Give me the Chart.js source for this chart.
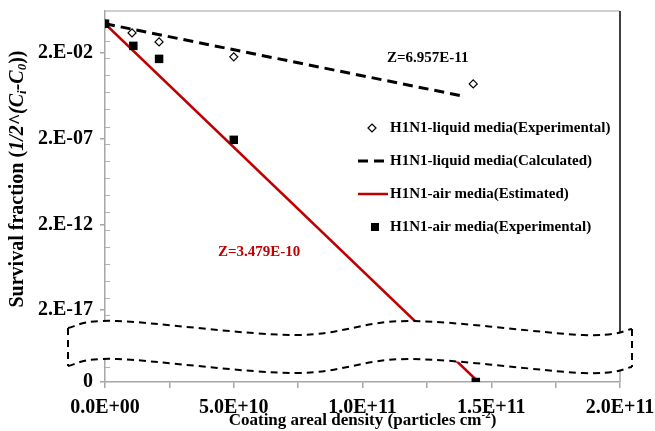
<!DOCTYPE html>
<html>
<head>
<meta charset="utf-8">
<script src="https://cdn.jsdelivr.net/npm/chart.js@4.4.0/dist/chart.umd.min.js"></script>
<style>
  html, body { margin: 0; padding: 0; background: #fff; }
  #wrap { width: 655px; height: 431px; }
</style>
</head>
<body>
<div id="wrap"><canvas id="chart" width="655" height="431"></canvas></div>
<script>
// H1N1 liquid media - experimental points
const liquidExpX = [0, 1.05e10, 2.1e10, 5.0e10, 1.43e11];
const liquidExpY = [1, 0.29, 0.087, 0.0117, 3.1e-4];
// H1N1 liquid media - calculated line (end points)
const liquidCalcX = [0, 1.39e11];
const liquidCalcY = [1, 6e-5];
// H1N1 air media - estimated line (end points)
const airEstX = [0, 1.45e11];
const airEstY = [1, 0];
// H1N1 air media - experimental points
const airExpX = [0, 1.1e10, 2.1e10, 5.0e10, 1.44e11];
const airExpY = [1, 0.051, 0.0089, 1.7e-7, 0];

const seriesNames = [
  'H1N1-liquid media(Experimental)',
  'H1N1-liquid media(Calculated)',
  'H1N1-air media(Estimated)',
  'H1N1-air media(Experimental)'
];

const xTicks = [0, 2.5e10, 5e10, 7.5e10, 1e11, 1.25e11, 1.5e11, 1.75e11, 2e11];
const xTickLabels = ['0.0E+00', '', '5.0E+10', '', '1.0E+11', '', '1.5E+11', '', '2.0E+11'];
const yTicks = [2e-2, 2e-7, 2e-12, 2e-17];
const yTickLabels = ['2.E-02', '2.E-07', '2.E-12', '2.E-17'];

// the broken axis: "0" sits at the bottom of the log axis
const Y_ZERO = 1.3e-21;
const Y_TOP = 5.5;

const RED = '#c00000';
const SERIF = "'Liberation Serif', 'Times New Roman', serif";

function toPoints(xs, ys) {
  return xs.map((x, i) => ({ x: x, y: ys[i] === 0 ? Y_ZERO : ys[i] }));
}

// dashed wavy band that marks the axis break
const breakBand = {
  id: 'breakBand',
  afterDatasetsDraw(chart) {
    const { ctx, chartArea: a } = chart;
    const b = a.bottom;
    const L = a.left - 37, R = a.right + 12;
    const topWave = [[L, b - 54], [a.left + 12, b - 61], [a.left + 190, b - 47], [a.left + 304, b - 61], [a.left + 478, b - 47], [R, b - 53]];
    const botWave = topWave.map(p => [p[0], p[1] + 38]);

    function curve(pts, reverse) {
      const p = reverse ? pts.slice().reverse() : pts;
      for (let i = 0; i < p.length - 1; i++) {
        const p0 = p[Math.max(i - 1, 0)], p1 = p[i], p2 = p[i + 1], p3 = p[Math.min(i + 2, p.length - 1)];
        ctx.bezierCurveTo(
          p1[0] + (p2[0] - p0[0]) / 6, p1[1] + (p2[1] - p0[1]) / 6,
          p2[0] - (p3[0] - p1[0]) / 6, p2[1] - (p3[1] - p1[1]) / 6,
          p2[0], p2[1]);
      }
    }

    ctx.save();
    // white fill hides axis and lines inside the break
    ctx.beginPath();
    ctx.moveTo(topWave[0][0], topWave[0][1]);
    curve(topWave, false);
    ctx.lineTo(botWave[botWave.length - 1][0], botWave[botWave.length - 1][1]);
    curve(botWave, true);
    ctx.closePath();
    ctx.fillStyle = '#fff';
    ctx.fill();

    ctx.strokeStyle = '#000';
    ctx.lineWidth = 2;
    ctx.setLineDash([7, 5]);
    ctx.beginPath();
    ctx.moveTo(topWave[0][0], topWave[0][1]);
    curve(topWave, false);
    ctx.moveTo(botWave[0][0], botWave[0][1]);
    curve(botWave, false);
    ctx.moveTo(L, topWave[0][1]);
    ctx.lineTo(L, botWave[0][1]);
    ctx.moveTo(R, topWave[topWave.length - 1][1]);
    ctx.lineTo(R, botWave[botWave.length - 1][1]);
    ctx.stroke();
    ctx.restore();
  }
};

// top and right frame lines, small minor ticks on the log axis
const frame = {
  id: 'frame',
  beforeDatasetsDraw(chart) {
    const { ctx, chartArea: a, scales } = chart;
    ctx.save();
    ctx.strokeStyle = '#bfbfbf';
    ctx.lineWidth = 1.5;
    ctx.beginPath();
    ctx.moveTo(a.left, a.top);
    ctx.lineTo(a.right, a.top);
    ctx.stroke();

    ctx.strokeStyle = '#b0b0b0';
    ctx.lineWidth = 1;
    ctx.beginPath();
    for (let e = 0; e >= -20; e--) {
      const py = Math.round(scales.y.getPixelForValue(Math.pow(10, e))) + 0.5;
      ctx.moveTo(a.left, py);
      ctx.lineTo(a.left + 5, py);
    }
    ctx.stroke();

    ctx.strokeStyle = '#404040';
    ctx.lineWidth = 2;
    ctx.beginPath();
    ctx.moveTo(a.right, a.top);
    ctx.lineTo(a.right, a.bottom - 40);
    ctx.stroke();
    ctx.strokeStyle = '#a6a6a6';
    ctx.lineWidth = 1.5;
    ctx.beginPath();
    ctx.moveTo(a.right, a.bottom - 40);
    ctx.lineTo(a.right, a.bottom);
    ctx.stroke();
    ctx.restore();
  }
};

function drawRuns(ctx, runs, cx, cy) {
  let total = 0;
  runs.forEach(r => { ctx.font = r.f; r.w = ctx.measureText(r.t).width; total += r.w; });
  let x = cx - total / 2;
  ctx.textBaseline = 'middle';
  ctx.textAlign = 'left';
  runs.forEach(r => {
    ctx.font = r.f;
    ctx.fillText(r.t, x, cy + (r.dy || 0));
    x += r.w;
  });
}

// axis titles, legend and Z labels
const annotations = {
  id: 'annotations',
  afterDraw(chart) {
    const { ctx, chartArea: a, scales } = chart;
    ctx.save();
    ctx.fillStyle = '#000';

    // x title
    drawRuns(ctx, [
      { t: 'Coating areal density (particles cm', f: 'bold 17px ' + SERIF },
      { t: '-2', f: 'bold 11px ' + SERIF, dy: -6 },
      { t: ')', f: 'bold 17px ' + SERIF }
    ], (a.left + a.right) / 2, 421);

    // y title
    ctx.save();
    ctx.translate(18, 179);
    ctx.rotate(-Math.PI / 2);
    drawRuns(ctx, [
      { t: 'Survival fraction (', f: 'bold 20px ' + SERIF },
      { t: '1/2^(C', f: 'italic bold 20px ' + SERIF },
      { t: 'i', f: 'italic bold 13px ' + SERIF, dy: 5 },
      { t: '-C', f: 'italic bold 20px ' + SERIF },
      { t: '0', f: 'italic bold 13px ' + SERIF, dy: 5 },
      { t: '))', f: 'bold 20px ' + SERIF }
    ], 0, 0);
    ctx.restore();

    // Z labels
    ctx.font = 'bold 15px ' + SERIF;
    ctx.textBaseline = 'middle';
    ctx.textAlign = 'left';
    ctx.fillText('Z=6.957E-11', scales.x.getPixelForValue(1.095e11), scales.y.getPixelForValue(0.0102));
    ctx.fillStyle = RED;
    ctx.fillText('Z=3.479E-10', scales.x.getPixelForValue(4.39e10), scales.y.getPixelForValue(5e-14));

    // legend
    const ds = chart.data.datasets;
    const lx = a.left + 253, ty = 128, gap = 33;
    ds.forEach((d, i) => {
      const y = ty + gap * i;
      ctx.save();
      if (d.showLine) {
        ctx.strokeStyle = d.borderColor;
        ctx.lineWidth = d.borderWidth;
        ctx.setLineDash(d.borderDash || []);
        ctx.beginPath();
        ctx.moveTo(lx, y);
        ctx.lineTo(lx + 30, y);
        ctx.stroke();
      } else if (d.pointStyle === 'rectRot') {
        ctx.strokeStyle = '#000';
        ctx.fillStyle = '#fff';
        ctx.lineWidth = 1.2;
        ctx.beginPath();
        ctx.moveTo(lx + 14, y - 4);
        ctx.lineTo(lx + 18, y);
        ctx.lineTo(lx + 14, y + 4);
        ctx.lineTo(lx + 10, y);
        ctx.closePath();
        ctx.fill();
        ctx.stroke();
      } else {
        ctx.fillStyle = '#000';
        ctx.fillRect(lx + 13, y - 4, 8, 8);
      }
      ctx.restore();
      ctx.fillStyle = '#000';
      ctx.font = 'bold 15px ' + SERIF;
      ctx.textBaseline = 'middle';
      ctx.fillText(d.label, lx + 32, y);
    });
    ctx.restore();
  }
};

new Chart(document.getElementById('chart'), {
  type: 'scatter',
  data: {
    datasets: [
      {
        label: seriesNames[0],
        data: toPoints(liquidExpX, liquidExpY),
        showLine: false,
        pointStyle: 'rectRot',
        pointRadius: 4,
        pointBackgroundColor: '#fff',
        pointBorderColor: '#000',
        pointBorderWidth: 1.2,
        order: 1
      },
      {
        label: seriesNames[1],
        data: toPoints(liquidCalcX, liquidCalcY),
        showLine: true,
        borderColor: '#000',
        borderWidth: 3,
        borderDash: [10, 6],
        pointRadius: 0,
        order: 3
      },
      {
        label: seriesNames[2],
        data: toPoints(airEstX, airEstY),
        showLine: true,
        borderColor: RED,
        borderWidth: 2.5,
        pointRadius: 0,
        order: 2
      },
      {
        label: seriesNames[3],
        data: toPoints(airExpX, airExpY),
        showLine: false,
        pointStyle: 'rect',
        pointRadius: 6,
        pointBackgroundColor: '#000',
        pointBorderColor: '#000',
        pointBorderWidth: 0,
        order: 0
      }
    ]
  },
  options: {
    responsive: false,
    animation: false,
    layout: { padding: { top: 11, right: 35, left: 0, bottom: 0 } },
    plugins: {
      legend: { display: false },
      tooltip: { enabled: false }
    },
    scales: {
      x: {
        type: 'linear',
        min: 0,
        max: 2e11,
        afterBuildTicks: scale => { scale.ticks = xTicks.map(v => ({ value: v })); },
        afterFit: scale => { scale.height = 49; scale.paddingLeft = 0; scale.paddingRight = 0; },
        ticks: {
          autoSkip: false,
          maxRotation: 0,
          padding: 8,
          color: '#000',
          font: { family: SERIF, size: 20, weight: 'bold' },
          callback: (v, i) => xTickLabels[i]
        },
        grid: { drawOnChartArea: false, drawTicks: true, tickLength: 6, color: '#a6a6a6', lineWidth: 1.5 },
        border: { color: '#a6a6a6', width: 1.5 }
      },
      y: {
        type: 'logarithmic',
        min: Y_ZERO,
        max: Y_TOP,
        bounds: 'data',
        afterBuildTicks: scale => { scale.ticks = [Y_ZERO].concat(yTicks).map(v => ({ value: v })); },
        afterFit: scale => { scale.width = 105; scale.paddingTop = 0; scale.paddingBottom = 0; },
        ticks: {
          autoSkip: false,
          padding: 7,
          color: '#000',
          font: { family: SERIF, size: 20, weight: 'bold' },
          callback: (v, i) => (i === 0 ? '0' : yTickLabels[i - 1])
        },
        grid: { drawOnChartArea: false, drawTicks: true, tickLength: 5, color: '#a6a6a6', lineWidth: 1.5 },
        border: { color: '#a6a6a6', width: 1.5 }
      }
    }
  },
  plugins: [frame, breakBand, annotations]
});
</script>
</body>
</html>
